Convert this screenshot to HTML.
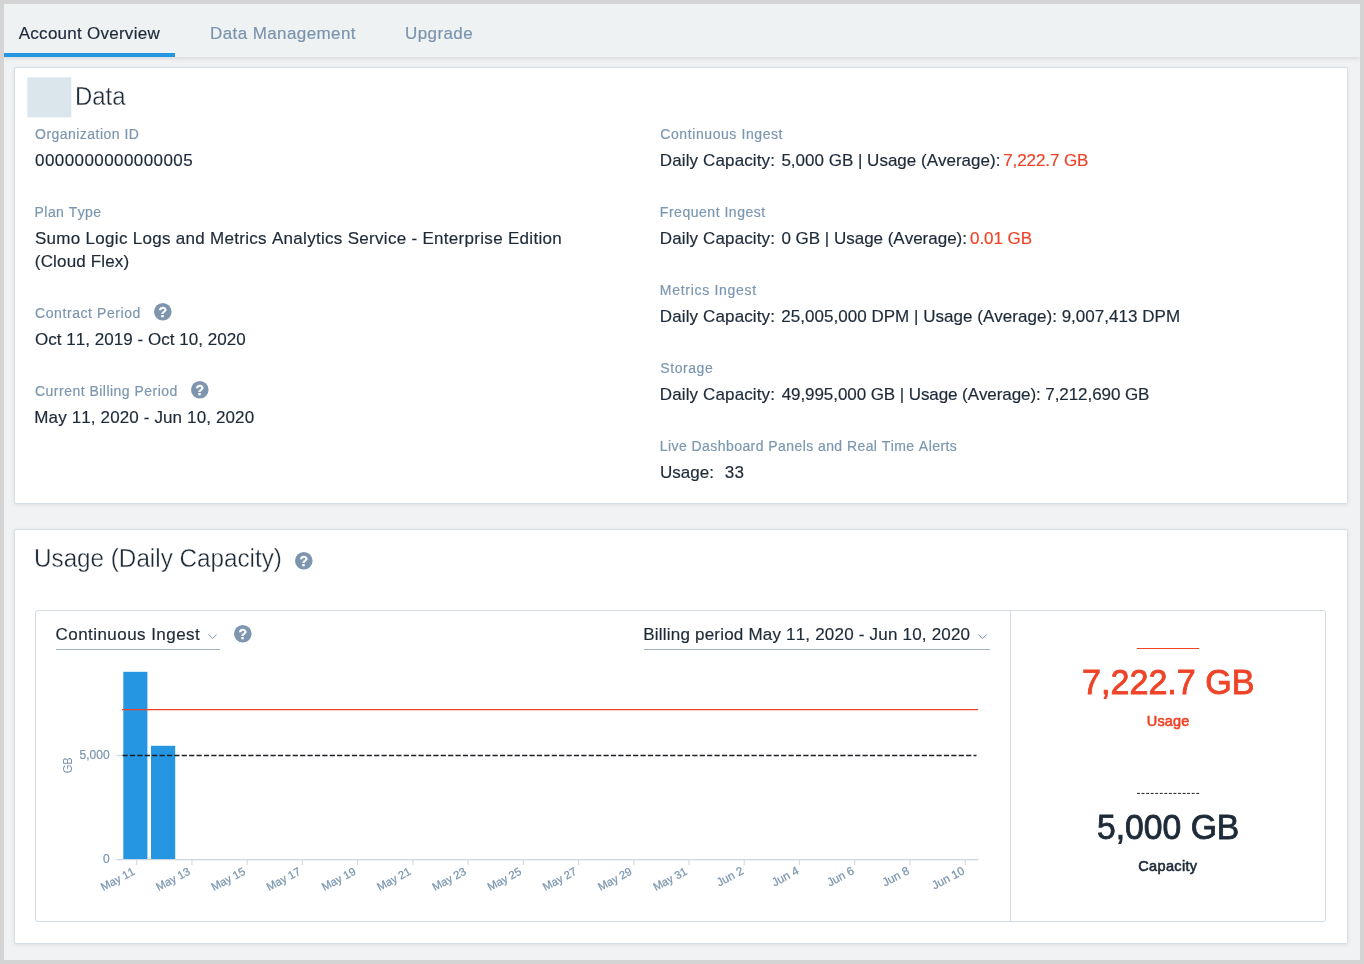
<!DOCTYPE html>
<html lang="en"><head><meta charset="utf-8"><title>Account Overview</title>
<style>
html,body{margin:0;padding:0;}
body{width:1364px;height:964px;overflow:hidden;background:#d4d4d4;font-family:"Liberation Sans",sans-serif;position:relative;}
#app{position:absolute;left:4px;top:4px;width:1356px;height:956px;background:#f0f2f4;overflow:hidden;}
.t{position:absolute;white-space:nowrap;font-kerning:none;}
svg text{font-kerning:none;}
#tabs{position:absolute;left:0;top:0;width:1356px;height:53px;background:#eef2f3;box-shadow:0 1px 5px rgba(0,0,0,.13);}
#tabs .ul{position:absolute;left:0;top:49px;width:171px;height:4px;background:#2596e1;}
.card{position:absolute;background:#fff;border:1px solid #d6dee6;border-radius:2px;box-shadow:0 1px 4px rgba(40,60,80,.09);box-sizing:border-box;}
.box{position:absolute;border:1px solid #d3dce5;border-radius:3px;box-sizing:border-box;background:#fff;}
.hl{position:absolute;height:1px;}
svg{position:absolute;overflow:visible;}
</style></head><body>
<div id="app">
<div id="tabs"><div class="ul"></div></div>

<div class="t" style="left:14.77px;top:19px;font-size:17px;line-height:22px;color:#1d2a38;letter-spacing:0.260px;-webkit-text-stroke:0.18px #1d2a38;">Account Overview</div>
<div class="t" style="left:206.01px;top:19px;font-size:17px;line-height:22px;color:#7b94ad;letter-spacing:0.404px;-webkit-text-stroke:0.18px #7b94ad;">Data Management</div>
<div class="t" style="left:400.99px;top:19px;font-size:17px;line-height:22px;color:#7b94ad;letter-spacing:0.409px;-webkit-text-stroke:0.18px #7b94ad;">Upgrade</div>
<div class="card" style="left:10px;top:63px;width:1334px;height:437px;"></div>
<svg style="left:-4px;top:-4px;" width="200" height="200" viewBox="0 0 200 200"><rect x="27.4" y="77.4" width="43.9" height="40" fill="#dae5ec"/></svg>
<div class="t" style="left:70.84px;top:75px;font-size:26px;line-height:34px;color:#1d2a38;transform:scaleX(0.9207);transform-origin:0 0;-webkit-text-stroke:0.35px #fff;">Data</div>
<div class="t" style="left:31.04px;top:121px;font-size:14px;line-height:18px;color:#7b96b0;letter-spacing:0.469px;-webkit-text-stroke:0.18px #7b96b0;">Organization ID</div>
<div class="t" style="left:31.04px;top:146px;font-size:17px;line-height:22px;color:#1d2a38;letter-spacing:0.427px;-webkit-text-stroke:0.18px #1d2a38;">0000000000000005</div>
<div class="t" style="left:30.55px;top:199px;font-size:14px;line-height:18px;color:#7b96b0;letter-spacing:0.442px;-webkit-text-stroke:0.18px #7b96b0;">Plan Type</div>
<div class="t" style="left:30.93px;top:224px;font-size:17px;line-height:22px;color:#1d2a38;letter-spacing:0.298px;-webkit-text-stroke:0.18px #1d2a38;">Sumo Logic Logs and Metrics Analytics Service - Enterprise Edition</div>
<div class="t" style="left:30.85px;top:247px;font-size:17px;line-height:22px;color:#1d2a38;letter-spacing:0.157px;-webkit-text-stroke:0.18px #1d2a38;">(Cloud Flex)</div>
<div class="t" style="left:30.99px;top:300px;font-size:14px;line-height:18px;color:#7b96b0;letter-spacing:0.582px;-webkit-text-stroke:0.18px #7b96b0;">Contract Period</div>
<svg style="left:150.15px;top:299.30px;" width="17.6" height="17.6" viewBox="0 0 20 20"><circle cx="10" cy="10" r="10" fill="#7d95ae"/><text x="10" y="15.7" text-anchor="middle" font-family="Liberation Sans, sans-serif" font-weight="bold" font-size="16" fill="#fff" stroke="#fff" stroke-width="0.35">?</text></svg>
<div class="t" style="left:30.89px;top:325px;font-size:17px;line-height:22px;color:#1d2a38;letter-spacing:0.038px;-webkit-text-stroke:0.18px #1d2a38;">Oct 11, 2019 - Oct 10, 2020</div>
<div class="t" style="left:30.99px;top:378px;font-size:14px;line-height:18px;color:#7b96b0;letter-spacing:0.482px;-webkit-text-stroke:0.18px #7b96b0;">Current Billing Period</div>
<svg style="left:187.30px;top:377.40px;" width="17.6" height="17.6" viewBox="0 0 20 20"><circle cx="10" cy="10" r="10" fill="#7d95ae"/><text x="10" y="15.7" text-anchor="middle" font-family="Liberation Sans, sans-serif" font-weight="bold" font-size="16" fill="#fff" stroke="#fff" stroke-width="0.35">?</text></svg>
<div class="t" style="left:30.31px;top:403px;font-size:17px;line-height:22px;color:#1d2a38;letter-spacing:0.132px;-webkit-text-stroke:0.18px #1d2a38;">May 11, 2020 - Jun 10, 2020</div>
<div class="t" style="left:656.29px;top:121px;font-size:14px;line-height:18px;color:#7b96b0;letter-spacing:0.585px;-webkit-text-stroke:0.18px #7b96b0;">Continuous Ingest</div>
<div class="t" style="left:655.81px;top:146px;font-size:17px;line-height:22px;color:#1d2a38;letter-spacing:0.127px;-webkit-text-stroke:0.18px #1d2a38;">Daily Capacity:</div>
<div class="t" style="left:777.42px;top:146px;font-size:17px;line-height:22px;color:#1d2a38;letter-spacing:0.001px;-webkit-text-stroke:0.18px #1d2a38;">5,000 GB | Usage (Average):</div>
<div class="t" style="left:999.13px;top:146px;font-size:17px;line-height:22px;color:#ee4327;letter-spacing:-0.082px;-webkit-text-stroke:0.18px #ee4327;">7,222.7 GB</div>
<div class="t" style="left:655.85px;top:199px;font-size:14px;line-height:18px;color:#7b96b0;letter-spacing:0.521px;-webkit-text-stroke:0.18px #7b96b0;">Frequent Ingest</div>
<div class="t" style="left:655.81px;top:224px;font-size:17px;line-height:22px;color:#1d2a38;letter-spacing:0.127px;-webkit-text-stroke:0.18px #1d2a38;">Daily Capacity:</div>
<div class="t" style="left:777.44px;top:224px;font-size:17px;line-height:22px;color:#1d2a38;letter-spacing:-0.014px;-webkit-text-stroke:0.18px #1d2a38;">0 GB | Usage (Average):</div>
<div class="t" style="left:966.04px;top:224px;font-size:17px;line-height:22px;color:#ee4327;letter-spacing:-0.052px;-webkit-text-stroke:0.18px #ee4327;">0.01 GB</div>
<div class="t" style="left:655.85px;top:277px;font-size:14px;line-height:18px;color:#7b96b0;letter-spacing:0.709px;-webkit-text-stroke:0.18px #7b96b0;">Metrics Ingest</div>
<div class="t" style="left:655.81px;top:302px;font-size:17px;line-height:22px;color:#1d2a38;letter-spacing:0.127px;-webkit-text-stroke:0.18px #1d2a38;">Daily Capacity:</div>
<div class="t" style="left:777.25px;top:302px;font-size:17px;line-height:22px;color:#1d2a38;letter-spacing:0.029px;-webkit-text-stroke:0.18px #1d2a38;">25,005,000 DPM | Usage (Average): 9,007,413 DPM</div>
<div class="t" style="left:656.36px;top:355px;font-size:14px;line-height:18px;color:#7b96b0;letter-spacing:0.554px;-webkit-text-stroke:0.18px #7b96b0;">Storage</div>
<div class="t" style="left:655.81px;top:380px;font-size:17px;line-height:22px;color:#1d2a38;letter-spacing:0.127px;-webkit-text-stroke:0.18px #1d2a38;">Daily Capacity:</div>
<div class="t" style="left:777.71px;top:380px;font-size:17px;line-height:22px;color:#1d2a38;letter-spacing:-0.077px;-webkit-text-stroke:0.18px #1d2a38;">49,995,000 GB | Usage (Average): 7,212,690 GB</div>
<div class="t" style="left:655.85px;top:433px;font-size:14px;line-height:18px;color:#7b96b0;letter-spacing:0.429px;-webkit-text-stroke:0.18px #7b96b0;">Live Dashboard Panels and Real Time Alerts</div>
<div class="t" style="left:655.89px;top:458px;font-size:17px;line-height:22px;color:#1d2a38;letter-spacing:0.060px;-webkit-text-stroke:0.18px #1d2a38;">Usage:</div>
<div class="t" style="left:720.75px;top:458px;font-size:17px;line-height:22px;color:#1d2a38;letter-spacing:0.185px;-webkit-text-stroke:0.18px #1d2a38;">33</div>
<div class="card" style="left:10px;top:525px;width:1334px;height:415px;"></div>
<div class="t" style="left:30.13px;top:537px;font-size:26px;line-height:34px;color:#1d2a38;transform:scaleX(0.9323);transform-origin:0 0;-webkit-text-stroke:0.35px #fff;">Usage (Daily Capacity)</div>
<svg style="left:291.10px;top:548.40px;" width="17.6" height="17.6" viewBox="0 0 20 20"><circle cx="10" cy="10" r="10" fill="#7d95ae"/><text x="10" y="15.7" text-anchor="middle" font-family="Liberation Sans, sans-serif" font-weight="bold" font-size="16" fill="#fff" stroke="#fff" stroke-width="0.35">?</text></svg>
<div class="box" style="left:31px;top:606px;width:1291px;height:312px;"></div>
<div class="hl" style="left:1006px;top:607px;width:1px;height:310px;background:#d3dce5;"></div>
<div class="t" style="left:51.54px;top:620px;font-size:17px;line-height:22px;color:#1d2a38;letter-spacing:0.447px;-webkit-text-stroke:0.18px #1d2a38;">Continuous Ingest</div>
<div class="hl" style="left:52px;top:645px;width:164px;background:#9fb2c6;"></div>
<svg style="left:204.30px;top:630.20px;" width="9" height="5.5" viewBox="0 0 9 5.5"><path d="M0.4 0.5 L4.5 4.6 L8.6 0.5" fill="none" stroke="#7d95ae" stroke-width="1"/></svg>
<svg style="left:230.40px;top:621.20px;" width="17.6" height="17.6" viewBox="0 0 20 20"><circle cx="10" cy="10" r="10" fill="#7d95ae"/><text x="10" y="15.7" text-anchor="middle" font-family="Liberation Sans, sans-serif" font-weight="bold" font-size="16" fill="#fff" stroke="#fff" stroke-width="0.35">?</text></svg>
<div class="t" style="left:639.31px;top:620px;font-size:17px;line-height:22px;color:#1d2a38;letter-spacing:0.202px;-webkit-text-stroke:0.18px #1d2a38;">Billing period May 11, 2020 - Jun 10, 2020</div>
<div class="hl" style="left:640px;top:645px;width:346px;background:#9fb2c6;"></div>
<svg style="left:973.80px;top:630.20px;" width="9" height="5.5" viewBox="0 0 9 5.5"><path d="M0.4 0.5 L4.5 4.6 L8.6 0.5" fill="none" stroke="#7d95ae" stroke-width="1"/></svg>
<svg style="left:-4px;top:-4px;" width="1364" height="964" viewBox="0 0 1364 964" font-family="Liberation Sans, sans-serif">
<rect x="123.3" y="671.8" width="24.1" height="187.6" fill="#2596e1"/>
<rect x="151" y="745.8" width="24.2" height="113.6" fill="#2596e1"/>
<path d="M116.5 859.6 H978.6" stroke="#ccd6e0" stroke-width="1.3" fill="none"/>
<path d="M116.5 755.5 H122.5" stroke="#ccd6e0" stroke-width="1.3" fill="none"/>
<path d="M136.70 859.6 V865 M191.93 859.6 V865 M247.17 859.6 V865 M302.40 859.6 V865 M357.63 859.6 V865 M412.86 859.6 V865 M468.10 859.6 V865 M523.33 859.6 V865 M578.56 859.6 V865 M633.80 859.6 V865 M689.03 859.6 V865 M744.26 859.6 V865 M799.50 859.6 V865 M854.73 859.6 V865 M909.96 859.6 V865 M965.19 859.6 V865" stroke="#d3dce5" stroke-width="1.2" fill="none"/>
<path d="M122 709.6 H978" stroke="#ee4327" stroke-width="1.2" fill="none"/>
<path d="M122.5 755.5 H976.5" stroke="#1d1f24" stroke-width="1.6" stroke-dasharray="5.2 2.2" fill="none"/>
<text x="109.6" y="759.4" text-anchor="end" font-size="12" fill="#7b96b0" stroke="#7b96b0" stroke-width="0.2">5,000</text>
<text x="109.7" y="862.6" text-anchor="end" font-size="12" fill="#7b96b0" stroke="#7b96b0" stroke-width="0.2">0</text>
<text transform="translate(72.3,765.3) rotate(-90) scale(0.86,1)" text-anchor="middle" font-size="13" fill="#7b96b0">GB</text>
<text transform="translate(135.70,873.8) rotate(-28)" text-anchor="end" font-size="11.2" fill="#7b96b0" stroke="#7b96b0" stroke-width="0.25">May 11</text>
<text transform="translate(190.93,873.8) rotate(-28)" text-anchor="end" font-size="11.2" fill="#7b96b0" stroke="#7b96b0" stroke-width="0.25">May 13</text>
<text transform="translate(246.17,873.8) rotate(-28)" text-anchor="end" font-size="11.2" fill="#7b96b0" stroke="#7b96b0" stroke-width="0.25">May 15</text>
<text transform="translate(301.40,873.8) rotate(-28)" text-anchor="end" font-size="11.2" fill="#7b96b0" stroke="#7b96b0" stroke-width="0.25">May 17</text>
<text transform="translate(356.63,873.8) rotate(-28)" text-anchor="end" font-size="11.2" fill="#7b96b0" stroke="#7b96b0" stroke-width="0.25">May 19</text>
<text transform="translate(411.86,873.8) rotate(-28)" text-anchor="end" font-size="11.2" fill="#7b96b0" stroke="#7b96b0" stroke-width="0.25">May 21</text>
<text transform="translate(467.10,873.8) rotate(-28)" text-anchor="end" font-size="11.2" fill="#7b96b0" stroke="#7b96b0" stroke-width="0.25">May 23</text>
<text transform="translate(522.33,873.8) rotate(-28)" text-anchor="end" font-size="11.2" fill="#7b96b0" stroke="#7b96b0" stroke-width="0.25">May 25</text>
<text transform="translate(577.56,873.8) rotate(-28)" text-anchor="end" font-size="11.2" fill="#7b96b0" stroke="#7b96b0" stroke-width="0.25">May 27</text>
<text transform="translate(632.80,873.8) rotate(-28)" text-anchor="end" font-size="11.2" fill="#7b96b0" stroke="#7b96b0" stroke-width="0.25">May 29</text>
<text transform="translate(688.03,873.8) rotate(-28)" text-anchor="end" font-size="11.2" fill="#7b96b0" stroke="#7b96b0" stroke-width="0.25">May 31</text>
<text transform="translate(744.46,873.3) rotate(-28)" text-anchor="end" font-size="11.7" fill="#7b96b0" stroke="#7b96b0" stroke-width="0.25">Jun 2</text>
<text transform="translate(799.70,873.3) rotate(-28)" text-anchor="end" font-size="11.7" fill="#7b96b0" stroke="#7b96b0" stroke-width="0.25">Jun 4</text>
<text transform="translate(854.93,873.3) rotate(-28)" text-anchor="end" font-size="11.7" fill="#7b96b0" stroke="#7b96b0" stroke-width="0.25">Jun 6</text>
<text transform="translate(910.16,873.3) rotate(-28)" text-anchor="end" font-size="11.7" fill="#7b96b0" stroke="#7b96b0" stroke-width="0.25">Jun 8</text>
<text transform="translate(965.39,873.3) rotate(-28)" text-anchor="end" font-size="11.7" fill="#7b96b0" stroke="#7b96b0" stroke-width="0.25">Jun 10</text>
</svg>
<div class="hl" style="left:1133px;top:644px;width:62px;background:#ee4327;"></div>
<div class="t" style="left:1077.65px;top:655px;font-size:35px;line-height:46px;color:#ee4327;transform:scaleX(0.9745);transform-origin:0 0;-webkit-text-stroke:0.85px #ee4327;">7,222.7 GB</div>
<div class="t" style="left:1142.78px;top:708px;font-size:14.5px;line-height:19px;color:#ee4327;letter-spacing:0.187px;-webkit-text-stroke:0.6px #ee4327;">Usage</div>
<svg style="left:-4px;top:-4px;" width="1364" height="964" viewBox="0 0 1364 964"><path d="M1137 793.4 H1199.2" stroke="#1d1f24" stroke-width="1" stroke-dasharray="2.9 1.66" fill="none"/></svg>
<div class="t" style="left:1093.45px;top:800px;font-size:35px;line-height:46px;color:#1d2a38;transform:scaleX(0.9624);transform-origin:0 0;-webkit-text-stroke:0.85px #1d2a38;">5,000 GB</div>
<div class="t" style="left:1134.26px;top:853px;font-size:14.5px;line-height:19px;color:#1d2a38;letter-spacing:0.350px;-webkit-text-stroke:0.6px #1d2a38;">Capacity</div>
</div></body></html>
